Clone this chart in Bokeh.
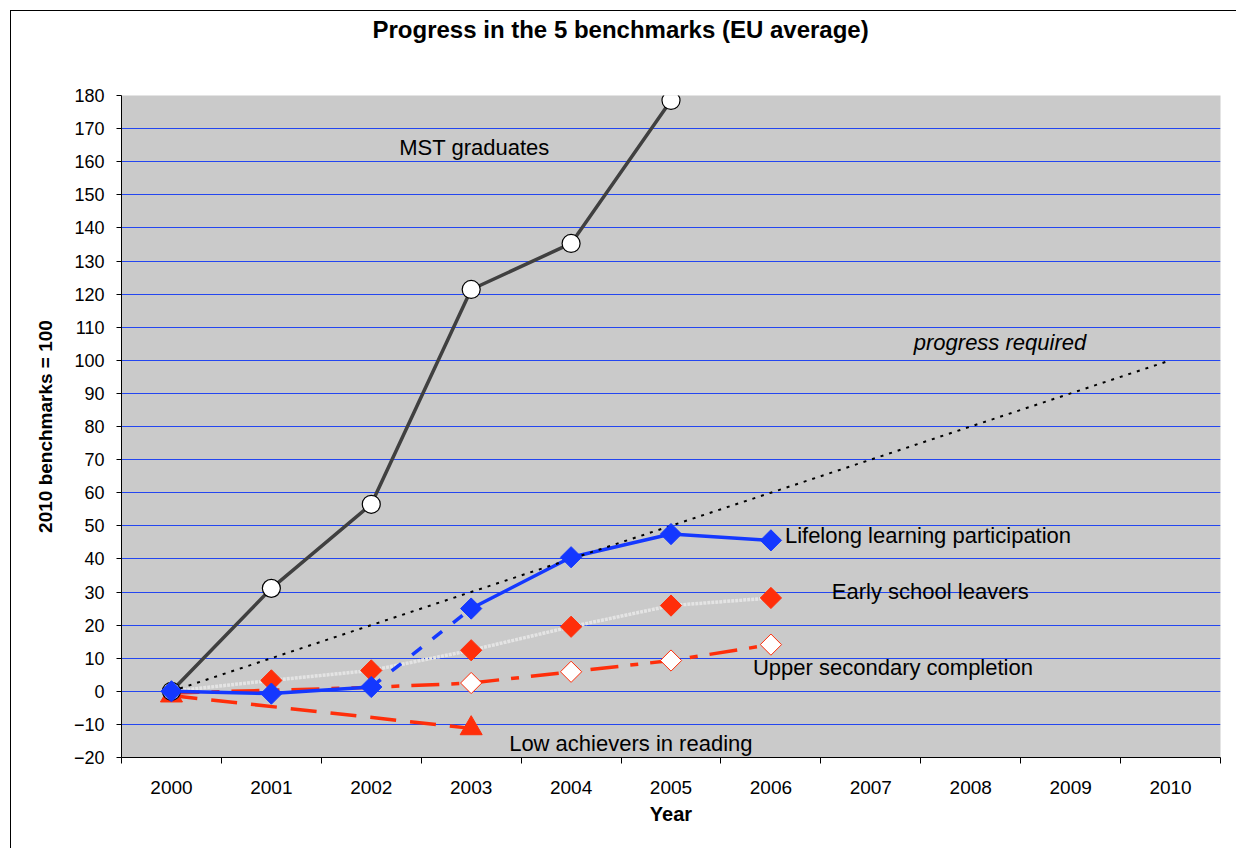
from bokeh.plotting import figure
from bokeh.models import Range1d, FixedTicker, Label, Title
from bokeh.embed import file_html
from bokeh.resources import INLINE
import math

# ---- data ----
years_axis = [2000, 2001, 2002, 2003, 2004, 2005, 2006, 2007, 2008, 2009, 2010]
tick_bounds = [1999.5, 2000.5, 2001.5, 2002.5, 2003.5, 2004.5, 2005.5, 2006.5, 2007.5, 2008.5, 2009.5, 2010.5]
y_ticks = [-20, -10, 0, 10, 20, 30, 40, 50, 60, 70, 80, 90, 100, 110, 120, 130, 140, 150, 160, 170, 180]

progress_years = [2000, 2001, 2002, 2003, 2004, 2005, 2006, 2007, 2008, 2009, 2010]
progress_values = [0, 10, 20, 30, 40, 50, 60, 70, 80, 90, 100]

mst_years = [2000, 2001, 2002, 2003, 2004, 2005]
mst_values = [0, 31.1, 56.5, 121.4, 135.3, 178.5]

lll_years = [2000, 2001, 2002, 2003, 2004, 2005, 2006]
lll_values = [0, -0.7, 1.3, 25.0, 40.5, 47.5, 45.6]

esl_years = [2000, 2001, 2002, 2003, 2004, 2005, 2006]
esl_values = [0, 3.3, 6.3, 12.4, 19.5, 25.9, 28.2]

usc_years = [2000, 2001, 2002, 2003, 2004, 2005, 2006]
usc_values = [-0.5, 0.3, 1.2, 2.5, 5.9, 9.3, 14.1]

low_years = [2000, 2003]
low_values = [-1.3, -11.2]

FONT = "Liberation Sans"
RED = "#FF2E0A"
BLUE = "#1438FF"

p = figure(width=1226, height=838, output_backend="svg", toolbar_location=None,
           x_range=Range1d(1999.5, 2010.5), y_range=Range1d(-20, 180),
           min_border_left=110, min_border_right=17, min_border_top=84, min_border_bottom=92)
p.margin = (10, 0, 0, 10)
p.styles = {"border-left": "1px solid black", "border-top": "1px solid black"}
p.outline_line_color = None
p.background_fill_color = "#CACACA"
p.border_fill_color = "white"

# title: a blank spacer next to the frame, then the real title above it
p.add_layout(Title(text=" ", text_font=FONT, text_font_size="45px", standoff=0), "above")
p.add_layout(Title(text="Progress in the 5 benchmarks (EU average)", align="left", offset=251,
                   text_font=FONT, text_font_size="24px", text_font_style="bold",
                   text_color="black", standoff=0), "above")

# axes
xa = p.xaxis[0]
xa.ticker = FixedTicker(ticks=years_axis, minor_ticks=tick_bounds)
xa.major_tick_out = 0
xa.major_tick_in = 0
xa.minor_tick_out = 6
xa.minor_tick_in = 0
xa.minor_tick_line_color = "black"
xa.axis_line_color = "black"
xa.major_label_text_font = FONT
xa.major_label_text_font_size = "19px"
xa.major_label_text_color = "black"
xa.major_label_standoff = 17
xa.axis_label = "Year"
xa.axis_label_text_font = FONT
xa.axis_label_text_font_size = "20px"
xa.axis_label_text_font_style = "bold"
xa.axis_label_text_color = "black"
xa.axis_label_standoff = 6
xa.major_label_overrides = {y: str(y) for y in years_axis}

ya = p.yaxis[0]
ya.ticker = FixedTicker(ticks=y_ticks)
ya.major_tick_out = 5
ya.major_tick_in = 0
ya.minor_tick_out = 0
ya.minor_tick_in = 0
ya.axis_line_color = "black"
ya.major_tick_line_color = "black"
ya.major_label_text_font = FONT
ya.major_label_text_font_size = "18px"
ya.major_label_text_color = "black"
ya.major_label_standoff = 12
ya.axis_label = "2010 benchmarks = 100"
ya.axis_label_text_font = FONT
ya.axis_label_text_font_size = "19px"
ya.axis_label_text_font_style = "bold"
ya.axis_label_text_color = "black"
ya.axis_label_standoff = 15

p.xgrid.grid_line_color = None
p.ygrid.grid_line_color = "#2446F0"
p.ygrid.grid_line_width = 1.2
p.ygrid.ticker = FixedTicker(ticks=y_ticks)

# lines
p.line(low_years, low_values, line_color=RED, line_width=3.5, line_dash="26 14")
p.line(usc_years, usc_values, line_color=RED, line_width=3.5, line_dash="28 12 8 12")
p.line(esl_years, esl_values, line_color="#E4E4E4", line_width=3.5, line_dash="3 1")
p.line(mst_years, mst_values, line_color="#404040", line_width=3.5)
p.line(lll_years[:3], lll_values[:3], line_color=BLUE, line_width=3.5)
p.line(lll_years[2:4], lll_values[2:4], line_color=BLUE, line_width=3.5, line_dash="12 14")
p.line(lll_years[3:], lll_values[3:], line_color=BLUE, line_width=3.5)
p.line(progress_years, progress_values, line_color="black", line_width=2, line_dash="3 6")

# markers
p.scatter(low_years, low_values, marker="triangle", size=22, fill_color=RED, line_color=RED, line_width=1)
p.scatter(usc_years[3:], usc_values[3:], marker="square", angle=math.pi / 4, size=15,
          fill_color="white", line_color=RED, line_width=1)
p.scatter(esl_years[1:], esl_values[1:], marker="square", angle=math.pi / 4, size=15,
          fill_color=RED, line_color=RED, line_width=1)
p.scatter(mst_years, mst_values, marker="circle", size=18, fill_color="white", line_color="black", line_width=1.2)
p.scatter(lll_years, lll_values, marker="square", angle=math.pi / 4, size=15,
          fill_color=BLUE, line_color=BLUE, line_width=1)

# series labels
labels = [
    ("MST graduates", 2002.28, 164.3, "normal"),
    ("progress required", 2007.43, 105.4, "italic"),
    ("Lifelong learning participation", 2006.14, 47.1, "normal"),
    ("Early school leavers", 2006.61, 30.2, "normal"),
    ("Upper secondary completion", 2005.82, 7.2, "normal"),
    ("Low achievers in reading", 2003.38, -15.8, "normal"),
]
for txt, lx, ly, style in labels:
    p.add_layout(Label(x=lx, y=ly, text=txt, text_font=FONT, text_font_size="22px",
                       text_font_style=style, text_color="black",
                       text_align="left", text_baseline="middle"))

open("out.html", "w").write(file_html(p, INLINE))
